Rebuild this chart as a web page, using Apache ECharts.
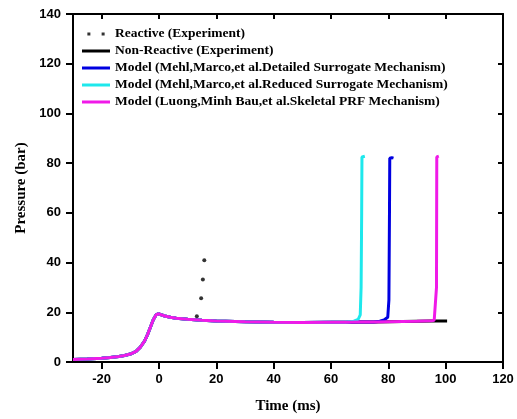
<!DOCTYPE html>
<html>
<head>
<meta charset="utf-8">
<script src="https://cdn.jsdelivr.net/npm/echarts@6/dist/echarts.min.js"></script>
<style>
  html, body { margin: 0; padding: 0; background: #fff; }
  #chart { width: 517px; height: 419px; }
</style>
</head>
<body>
<div id="chart"></div>
<script>
// ── Data ─────────────────────────────────────────────────────────────────
const xTicks = [-20, 0, 20, 40, 60, 80, 100, 120];

// shared compression trace (all curves overlap before ignition)
const baseTime = [-30, -25, -20, -17, -14, -12, -10, -8, -6.5, -5, -4, -3, -2, -1, -0.5, 0, 1, 2, 4, 6, 10, 15, 20, 30, 40, 50, 60, 65];
const basePres = [1.0, 1.2, 1.5, 1.8, 2.2, 2.6, 3.2, 4.3, 6.0, 8.5, 11, 14, 17, 19, 19.6, 19.4, 18.9, 18.5, 18.0, 17.6, 17.2, 16.8, 16.5, 16.2, 16.0, 15.9, 16.0, 16.0];

const reactiveTime = [13.2, 14.7, 15.3, 15.8];
const reactivePres = [18.4, 25.6, 33.2, 40.9];

const nonReactTime = [70, 75, 80, 85, 90, 95, 100, 100.5];
const nonReactPres = [16.1, 16.1, 16.2, 16.3, 16.4, 16.5, 16.5, 16.5];

const detailedTime = [70, 75, 77, 78.5, 79.8, 80.2, 80.4, 80.5, 81.2, 81.8];
const detailedPres = [16.1, 16.1, 16.4, 16.9, 18.0, 25, 60, 82, 82.2, 82.0];

const reducedTime = [68, 69.5, 70.2, 70.5, 70.7, 70.8, 71.2, 71.8];
const reducedPres = [16.4, 17.2, 19.0, 30, 60, 82.5, 83.0, 82.8];

const skeletalTime = [70, 75, 80, 85, 90, 95, 96, 96.6, 96.8, 96.9, 97.6];
const skeletalPres = [16.1, 16.1, 16.2, 16.3, 16.4, 16.6, 16.8, 17.5, 30, 82.5, 82.8];

const names = [
  'Reactive (Experiment)',
  'Non-Reactive (Experiment)',
  'Model (Mehl,Marco,et al.Detailed Surrogate Mechanism)',
  'Model (Mehl,Marco,et al.Reduced Surrogate Mechanism)',
  'Model (Luong,Minh Bau,et al.Skeletal PRF Mechanism)'
];
const colors = ['#000000', '#000000', '#0000e0', '#1ee8ec', '#f01ae8'];

// ── Helpers ──────────────────────────────────────────────────────────────
function pairs(xs, ys) { return xs.map((x, i) => [x, ys[i]]); }
function withBase(xs, ys) { return pairs(baseTime, basePres).concat(pairs(xs, ys)); }

function lineSeries(i, data, z) {
  return {
    name: names[i], type: 'line', data, z,
    symbol: 'none', smooth: false,
    lineStyle: { color: colors[i], width: 3 },
    itemStyle: { color: colors[i] }
  };
}

const tickFont = { fontFamily: 'Liberation Sans', fontWeight: 'bold', fontSize: 13, color: '#000' };
const titleFont = { fontFamily: 'Liberation Serif', fontWeight: 'bold', fontSize: 15, color: '#000' };
const axisLine = { show: true, onZero: false, lineStyle: { color: '#000', width: 2 } };

// ── Chart ────────────────────────────────────────────────────────────────
const chart = echarts.init(document.getElementById('chart'));
chart.setOption({
  animation: false,
  grid: { left: 73, right: 14, top: 14, bottom: 56 },
  legend: {
    orient: 'vertical', left: 77, top: 22,
    itemWidth: 28, itemHeight: 3, itemGap: 3,
    textStyle: { fontFamily: 'Liberation Serif', fontWeight: 'bold', fontSize: 13.5, lineHeight: 14, color: '#000' },
    data: [
      { name: names[0], icon: 'path://M0,0h4v4h-4z M19,0h4v4h-4z' },
      { name: names[1], icon: 'rect' },
      { name: names[2], icon: 'rect' },
      { name: names[3], icon: 'rect' },
      { name: names[4], icon: 'rect' }
    ]
  },
  xAxis: [
    {
      type: 'value', min: -30, max: 120, position: 'bottom',
      axisLine, splitLine: { show: false },
      axisTick: { show: true, inside: false, length: 7, customValues: xTicks, lineStyle: { color: '#000', width: 2 } },
      axisLabel: { ...tickFont, margin: 11, customValues: xTicks },
      name: 'Time (ms)', nameLocation: 'middle', nameGap: 37, nameTextStyle: titleFont
    },
    {
      type: 'value', min: -30, max: 120, position: 'top',
      axisLine, splitLine: { show: false },
      axisTick: { show: true, inside: true, length: 5, customValues: xTicks, lineStyle: { color: '#000', width: 2 } },
      axisLabel: { show: false }
    }
  ],
  yAxis: [
    {
      type: 'value', min: 0, max: 140, interval: 20, position: 'left',
      axisLine, splitLine: { show: false },
      axisTick: { show: true, inside: false, length: 7, lineStyle: { color: '#000', width: 2 } },
      axisLabel: { ...tickFont, margin: 12 },
      name: 'Pressure (bar)', nameLocation: 'middle', nameGap: 43, nameTextStyle: titleFont
    },
    {
      type: 'value', min: 0, max: 140, interval: 20, position: 'right',
      axisLine, splitLine: { show: false },
      axisTick: { show: true, inside: true, length: 5, lineStyle: { color: '#000', width: 2 } },
      axisLabel: { show: false }
    }
  ],
  series: [
    {
      name: names[0], type: 'scatter', data: pairs(reactiveTime, reactivePres), z: 6,
      symbol: 'circle', symbolSize: 4, itemStyle: { color: colors[0] }
    },
    lineSeries(1, withBase(nonReactTime, nonReactPres), 2),
    lineSeries(2, withBase(detailedTime, detailedPres), 3),
    lineSeries(3, withBase(reducedTime, reducedPres), 4),
    lineSeries(4, withBase(skeletalTime, skeletalPres), 5)
  ]
});
</script>
</body>
</html>
